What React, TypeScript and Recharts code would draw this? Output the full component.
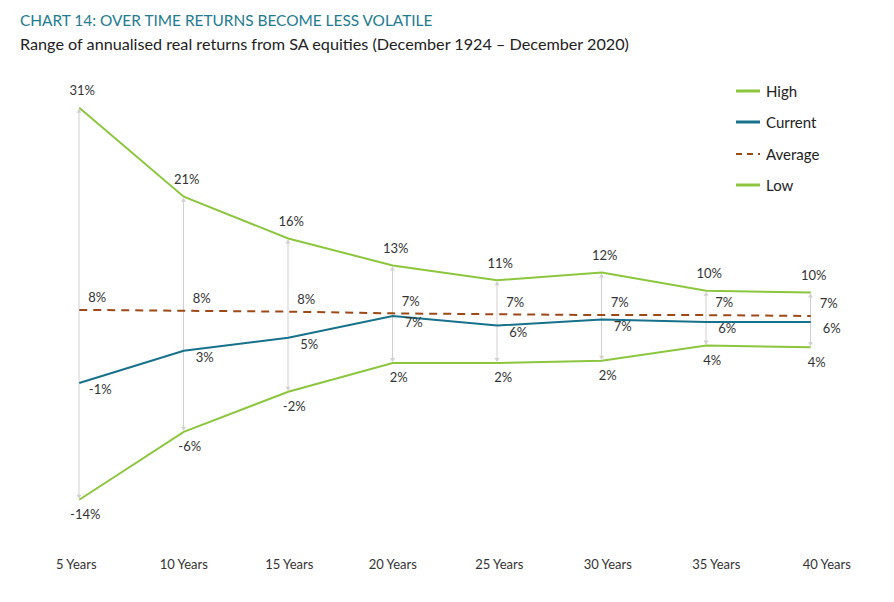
import {
  ComposedChart,
  Line,
  Bar,
  XAxis,
  YAxis,
  LabelList,
} from "recharts";

const categories = [
  "5 Years",
  "10 Years",
  "15 Years",
  "20 Years",
  "25 Years",
  "30 Years",
  "35 Years",
  "40 Years",
];
const high = [31.0, 20.8, 16.0, 12.9, 11.2, 12.1, 10.0, 9.8];
const current = [-0.6, 3.1, 4.6, 7.1, 6.0, 6.7, 6.4, 6.4];
const average = [7.8, 7.7, 7.6, 7.4, 7.3, 7.2, 7.2, 7.1];
const low = [-14.0, -6.2, -1.6, 1.7, 1.7, 1.95, 3.7, 3.5];

const data = categories.map((name, i) => ({
  name,
  high: high[i],
  current: current[i],
  average: average[i],
  low: low[i],
  range: [low[i], high[i]],
}));

const GREEN = "#8cc63f";
const TEAL = "#17718a";
const BROWN = "#9c4a18";
const FONT = "Lato, 'Open Sans', sans-serif";

const tickShift = [-3, 0, 1, 0, 2, 6, 10, 16];

const XTick = (props: any) => {
  const { x, y, payload, index } = props;
  return (
    <text
      x={x + (tickShift[index] ?? 0)}
      y={y}
      dy="0.71em"
      textAnchor="middle"
      fontSize={13}
      fontFamily={FONT}
      fill="#333"
    >
      {payload.value}
    </text>
  );
};

const makeLabel = (dx: number, dy: number) => (props: any) => {
  const { x, y, value } = props;
  if (x == null || y == null) return null;
  return (
    <text
      x={x + dx}
      y={y + dy}
      textAnchor="middle"
      dominantBaseline="middle"
      fontSize={13}
      fontFamily={FONT}
      fill="#333"
    >
      {`${Math.round(value)}%`}
    </text>
  );
};

const RangeArrow = (props: any) => {
  const { x, y, width, height } = props;
  if (x == null || y == null) return null;
  const cx = x + width / 2;
  const top = y;
  const bottom = y + height;
  return (
    <g>
      <line x1={cx} y1={top + 2} x2={cx} y2={bottom - 2} stroke="#d0d0d0" strokeWidth={1} />
      <path d={`M${cx - 2.5},${top + 5} L${cx},${top + 1} L${cx + 2.5},${top + 5} Z`} fill="#d0d0d0" />
      <path d={`M${cx - 2.5},${bottom - 5} L${cx},${bottom - 1} L${cx + 2.5},${bottom - 5} Z`} fill="#d0d0d0" />
    </g>
  );
};

const legendItems = [
  { label: "High", color: GREEN, dashed: false },
  { label: "Current", color: TEAL, dashed: false },
  { label: "Average", color: BROWN, dashed: true },
  { label: "Low", color: GREEN, dashed: false },
];

const LegendBox = () => (
  <div
    style={{
      position: "absolute",
      left: 736,
      top: 75,
      fontFamily: FONT,
      fontSize: 15,
      color: "#222",
    }}
  >
    {legendItems.map((it) => (
      <div
        key={it.label}
        style={{ display: "flex", alignItems: "center", height: 31.5 }}
      >
        <svg width={24} height={6} style={{ marginRight: 6 }}>
          <line
            x1={0}
            y1={3}
            x2={24}
            y2={3}
            stroke={it.color}
            strokeWidth={it.dashed ? 2 : 3}
            strokeDasharray={it.dashed ? "6 5" : undefined}
          />
        </svg>
        <span>{it.label}</span>
      </div>
    ))}
  </div>
);

export default function App() {
  return (
    <div
      style={{
        position: "absolute",
        left: 0,
        top: 0,
        width: 894,
        height: 602,
        background: "#fff",
        fontFamily: FONT,
      }}
    >
      <div
        style={{
          position: "absolute",
          left: 20,
          top: 11,
          fontSize: 15.4,
          color: "#227b8f",
        }}
      >
        CHART 14: OVER TIME RETURNS BECOME LESS VOLATILE
      </div>
      <div
        style={{
          position: "absolute",
          left: 20,
          top: 34,
          fontSize: 16.2,
          color: "#222",
        }}
      >
        Range of annualised real returns from SA equities (December 1924 – December 2020)
      </div>
      <div style={{ position: "absolute", left: 0, top: 0 }}>
        <ComposedChart
          width={894}
          height={602}
          data={data}
          margin={{ top: 73, right: 31, bottom: 20, left: 27 }}
        >
          <XAxis
            dataKey="name"
            axisLine={false}
            tickLine={false}
            tickSize={0}
            tickMargin={8}
            height={30}
            interval={0}
            tick={<XTick />}
          />
          <YAxis hide domain={[-20, 35]} allowDataOverflow />
          <Bar
            dataKey="range"
            barSize={6}
            shape={<RangeArrow />}
            isAnimationActive={false}
          />
          <Line
            dataKey="high"
            stroke={GREEN}
            strokeWidth={2}
            dot={false}
            activeDot={false}
            isAnimationActive={false}
          >
            <LabelList dataKey="high" content={makeLabel(3, -16)} />
          </Line>
          <Line
            dataKey="low"
            stroke={GREEN}
            strokeWidth={2}
            dot={false}
            activeDot={false}
            isAnimationActive={false}
          >
            <LabelList dataKey="low" content={makeLabel(6, 16)} />
          </Line>
          <Line
            dataKey="average"
            stroke={BROWN}
            strokeWidth={2}
            strokeDasharray="8 6"
            dot={false}
            activeDot={false}
            isAnimationActive={false}
          >
            <LabelList dataKey="average" content={makeLabel(18, -11)} />
          </Line>
          <Line
            dataKey="current"
            stroke={TEAL}
            strokeWidth={2}
            dot={false}
            activeDot={false}
            isAnimationActive={false}
          >
            <LabelList dataKey="current" content={makeLabel(21, 8)} />
          </Line>
        </ComposedChart>
      </div>
      <LegendBox />
    </div>
  );
}
